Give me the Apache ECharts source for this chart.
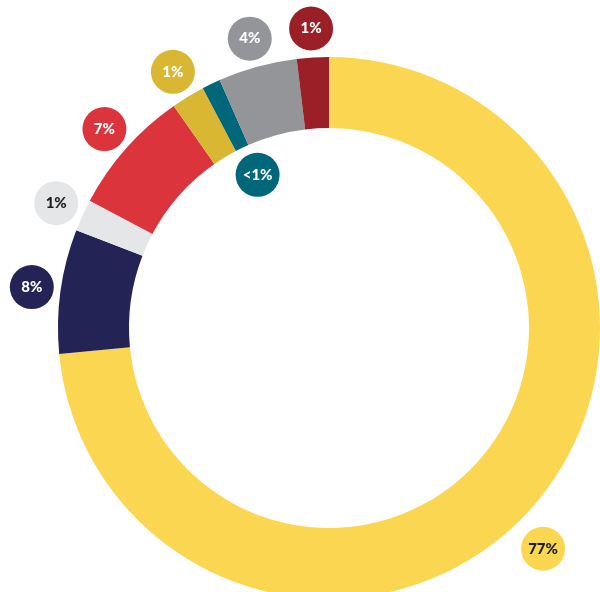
<!DOCTYPE html>
<html>
<head>
<meta charset="utf-8">
<script src="https://cdn.jsdelivr.net/npm/echarts@6/dist/echarts.min.js"></script>
<style>
  html, body { margin: 0; padding: 0; background: #fff; }
  #main { width: 600px; height: 592px; }
</style>
</head>
<body>
<div id="main"></div>
<script>
// slices clockwise from 12 o'clock
var names = ['A', 'B', 'C', 'D', 'E', 'F', 'G', 'H'];
var values = [73.4, 7.4, 1.9, 7.5, 2.0, 1.1, 4.7, 1.9];
var labels = ['77%', '8%', '1%', '7%', '1%', '<1%', '4%', '1%'];
var colors = ['#FBD651', '#232356', '#E5E6E8', '#DC343D', '#DAB733', '#00677A', '#939598', '#9B1F26'];
var textColors = ['#1c1c1c', '#fff', '#1c1c1c', '#fff', '#fff', '#fff', '#fff', '#fff'];

var myChart = echarts.init(document.getElementById('main'));

var ringData = values.map(function(v, i){
    return { name: names[i], value: v, itemStyle: { color: colors[i] } };
});

// invisible ring that only carries the round badges
var badgeData = values.map(function(v, i){
    var lab = {
        formatter: labels[i],
        backgroundColor: colors[i],
        color: textColors[i]
    };
    if (i === 0) lab.offset = [-8, 19];     // 77% badge sits a bit lower
    if (i === 5) lab.offset = [59, 117];    // <1% badge sits inside the hole
    return { name: names[i], value: v, label: lab };
});

var option = {
    backgroundColor: '#fff',
    animation: false,
    series: [
        {
            type: 'pie',
            center: [329, 328],
            radius: [200, 271],
            startAngle: 90,
            clockwise: true,
            silent: true,
            label: { show: false },
            labelLine: { show: false },
            itemStyle: { borderWidth: 0 },
            data: ringData
        },
        {
            type: 'pie',
            center: [329, 328],
            radius: [277, 317],
            startAngle: 90,
            clockwise: true,
            silent: true,
            itemStyle: { color: 'rgba(0,0,0,0)' },
            labelLine: { show: false },
            label: {
                show: true,
                position: 'inside',
                width: 44,
                height: 44,
                lineHeight: 44,
                borderRadius: 22,
                align: 'center',
                verticalAlign: 'middle',
                fontFamily: 'Lato',
                fontWeight: 900,
                fontSize: 15
            },
            data: badgeData
        }
    ]
};

myChart.setOption(option);
</script>
</body>
</html>
